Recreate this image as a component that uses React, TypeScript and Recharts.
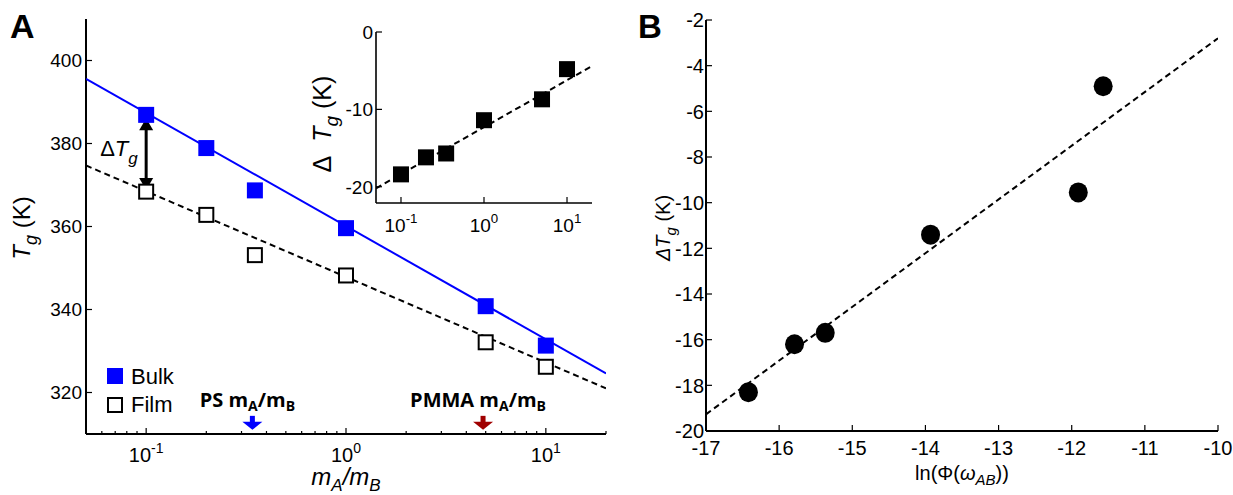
import React from "react";
import { ComposedChart, Scatter, XAxis, YAxis, ReferenceLine, ReferenceDot } from "recharts";

// panel A: glass transition vs mass ratio
const massRatio = [0.1, 0.2, 0.35, 1, 5, 10];
const bulkTg = [386.9, 378.9, 368.7, 359.6, 340.8, 331.3];
const filmTg = [368.4, 362.8, 353.1, 348.2, 332.1, 326.2];
const fitRatio = [0.05, 20];
const bulkFitTg = [395.6, 324.6];
const filmFitTg = [374.7, 321.0];

// inset: shift of Tg
const insetShift = [-18.4, -16.2, -15.7, -11.4, -8.7, -4.8];
const insetFitShift = [-20.2, -4.4];

// panel B: shift vs ln(Phi)
const lnPhi = [-16.42, -15.79, -15.37, -13.93, -11.91, -11.57];
const shiftB = [-18.3, -16.2, -15.7, -11.4, -9.55, -4.9];
const fitLnPhi = [-17, -10];
const fitShiftB = [-19.27, -2.8];

// arrows marking polymer ratios
const psRatio = 0.34;
const pmmaRatio = 4.85;

// ticks
const decades = [0.1, 1, 10];
const decadeExp = ["-1", "0", "1"];
const logTicks = [0.05, 0.06, 0.07, 0.08, 0.09, 0.1, 0.2, 0.3, 0.4, 0.5, 0.6, 0.7, 0.8, 0.9, 1, 2, 3, 4, 5, 6, 7, 8, 9, 10, 20];
const tgTicks = [320, 340, 360, 380, 400];
const insetTicks = [-20, -10, 0];
const bTicksX = [-17, -16, -15, -14, -13, -12, -11, -10];
const bTicksY = [-20, -18, -16, -14, -12, -10, -8, -6, -4, -2];

const FONT = "'Liberation Sans', Arial, sans-serif";
const BOLD = "'Open Sans', 'Liberation Sans', sans-serif";

const pts = (xs: number[], ys: number[]) => xs.map((x, i) => ({ x, y: ys[i] }));

const none = () => <g />;

const logTick = (side: "bottom" | "top", labelDy: number, fs: number) => (p: any) => {
  const { x, y, payload } = p;
  const k = decades.indexOf(payload.value);
  const len = k >= 0 ? 6 : 3;
  const dir = side === "bottom" ? -1 : 1;
  return (
    <g>
      <line x1={x} x2={x} y1={y} y2={y + dir * len} stroke="#000" strokeWidth={1.2} />
      {side === "bottom" && k >= 0 ? (
        <text x={x} y={y + labelDy} textAnchor="middle" fontSize={fs} fontFamily={FONT} fill="#000">
          10
          <tspan dy={-fs * 0.45} fontSize={fs * 0.7}>
            {decadeExp[k]}
          </tspan>
        </text>
      ) : null}
    </g>
  );
};

const linTick = (side: "left" | "right" | "bottom" | "top", fs: number, gap: number) => (p: any) => {
  const { x, y, payload } = p;
  const len = 6;
  if (side === "left")
    return (
      <g>
        <line x1={x} x2={x + len} y1={y} y2={y} stroke="#000" strokeWidth={1.2} />
        <text x={x - gap} y={y} dy="0.36em" textAnchor="end" fontSize={fs} fontFamily={FONT} fill="#000">
          {payload.value}
        </text>
      </g>
    );
  if (side === "right") return <line x1={x} x2={x - len} y1={y} y2={y} stroke="#000" strokeWidth={1.2} />;
  if (side === "top") return <line x1={x} x2={x} y1={y} y2={y + len} stroke="#000" strokeWidth={1.2} />;
  return (
    <g>
      <line x1={x} x2={x} y1={y} y2={y - len} stroke="#000" strokeWidth={1.2} />
      <text x={x} y={y + gap} textAnchor="middle" fontSize={fs} fontFamily={FONT} fill="#000">
        {payload.value}
      </text>
    </g>
  );
};

const square = (size: number, fill: string, open = false) => (p: any) =>
  open ? (
    <rect x={p.cx - size / 2} y={p.cy - size / 2} width={size} height={size} fill="#fff" stroke="#000" strokeWidth={2} />
  ) : (
    <rect x={p.cx - size / 2} y={p.cy - size / 2} width={size} height={size} fill={fill} />
  );

const ratioArrow = (color: string, label: string) => (p: any) => {
  const { cx, cy } = p;
  return (
    <g>
      <rect x={cx - 2.5} y={cy - 14} width={5} height={7} fill={color} />
      <polygon points={`${cx - 10},${cy - 8} ${cx + 10},${cy - 8} ${cx},${cy}`} fill={color} />
      <text x={cx - 5} y={cy - 23} textAnchor="middle" fontSize={20} fontWeight={700} fontFamily={BOLD} fill="#000">
        {label} m<tspan dy={4} fontSize={14}>A</tspan>
        <tspan dy={-4}>/m</tspan>
        <tspan dy={4} fontSize={14}>B</tspan>
      </text>
    </g>
  );
};

const deltaArrow = (p: any) => {
  const { x1, y1, y2 } = p;
  const top = Math.min(y1, y2);
  const bot = Math.max(y1, y2);
  return (
    <g>
      <line x1={x1} x2={x1} y1={top + 10} y2={bot - 10} stroke="#000" strokeWidth={3} />
      <polygon points={`${x1 - 7},${top + 12} ${x1 + 7},${top + 12} ${x1},${top}`} fill="#000" />
      <polygon points={`${x1 - 7},${bot - 12} ${x1 + 7},${bot - 12} ${x1},${bot}`} fill="#000" />
      <text x={x1 - 46} y={(top + bot) / 2 + 2} fontSize={22} fontFamily={FONT} fill="#000">
        Δ<tspan fontStyle="italic">T</tspan>
        <tspan dy={8} fontSize={17} fontStyle="italic">g</tspan>
      </text>
    </g>
  );
};

const circle = (p: any) => <ellipse cx={p.cx} cy={p.cy} rx={9.5} ry={10} fill="#000" />;

function PanelA() {
  return (
    <ComposedChart width={620} height={495} margin={{ top: 19, right: 14, bottom: 21, left: 26 }}>
      <XAxis type="number" dataKey="x" scale="log" domain={[0.05, 20]} allowDataOverflow ticks={logTicks} interval={0}
        height={40} tickSize={0} tickMargin={0} tickLine={false} tick={logTick("bottom", 28, 20)}
        axisLine={{ stroke: "#000", strokeWidth: 2 }} />
      <XAxis xAxisId="t" orientation="top" type="number" dataKey="x" scale="log" domain={[0.05, 20]} allowDataOverflow
        ticks={logTicks} interval={0} height={0} tickSize={0} tickMargin={0} tickLine={false} tick={logTick("top", 0, 20)}
        axisLine={{ stroke: "#000", strokeWidth: 2 }} />
      <YAxis type="number" dataKey="y" domain={[310, 410]} allowDataOverflow ticks={tgTicks} interval={0} width={60}
        tickSize={0} tickMargin={0} tickLine={false} tick={linTick("left", 19, 4)} axisLine={{ stroke: "#000", strokeWidth: 2 }} />
      <YAxis yAxisId="r" orientation="right" type="number" domain={[310, 410]} allowDataOverflow ticks={tgTicks} interval={0}
        width={0} tickSize={0} tickMargin={0} tickLine={false} tick={linTick("right", 19, 4)}
        axisLine={{ stroke: "#000", strokeWidth: 2 }} />
      <Scatter data={pts(fitRatio, bulkFitTg)} line={{ stroke: "#0000ff", strokeWidth: 2 }} shape={none} isAnimationActive={false} />
      <Scatter data={pts(fitRatio, filmFitTg)} line={{ stroke: "#000", strokeWidth: 2, strokeDasharray: "6 4" }} shape={none} isAnimationActive={false} />
      <Scatter data={pts(massRatio, filmTg)} shape={square(14, "#fff", true)} isAnimationActive={false} />
      <Scatter data={pts(massRatio, bulkTg)} shape={square(16, "#0000ff")} isAnimationActive={false} />
      <ReferenceLine segment={[{ x: 0.1, y: 386.1 }, { x: 0.1, y: 368.8 }]} shape={deltaArrow} />
      <ReferenceDot x={psRatio} y={311} shape={ratioArrow("#0000ff", "PS")} />
      <ReferenceDot x={pmmaRatio} y={311} shape={ratioArrow("#a00000", "PMMA")} />
    </ComposedChart>
  );
}

function Inset() {
  return (
    <ComposedChart width={315} height={245} margin={{ top: 22, right: 13, bottom: 22, left: 26 }}>
      <XAxis type="number" dataKey="x" scale="log" domain={[0.05, 20]} allowDataOverflow ticks={decades} interval={0}
        height={30} tickSize={0} tickMargin={0} tickLine={false} tick={logTick("bottom", 29, 19)}
        axisLine={{ stroke: "#000", strokeWidth: 1.6 }} />
      <XAxis xAxisId="t" orientation="top" type="number" dataKey="x" scale="log" domain={[0.05, 20]} allowDataOverflow
        ticks={decades} interval={0} height={0} tickSize={0} tickMargin={0} tickLine={false} tick={logTick("top", 0, 19)}
        axisLine={{ stroke: "#000", strokeWidth: 1.6 }} />
      <YAxis type="number" dataKey="y" domain={[-22.1, 0]} allowDataOverflow ticks={insetTicks} interval={0} width={60}
        tickSize={0} tickMargin={0} tickLine={false} tick={linTick("left", 19, 3)} axisLine={{ stroke: "#000", strokeWidth: 1.6 }} />
      <YAxis yAxisId="r" orientation="right" type="number" domain={[-22.1, 0]} allowDataOverflow ticks={insetTicks} interval={0}
        width={0} tickSize={0} tickMargin={0} tickLine={false} tick={linTick("right", 19, 3)}
        axisLine={{ stroke: "#000", strokeWidth: 1.6 }} />
      <Scatter data={pts(fitRatio, insetFitShift)} line={{ stroke: "#000", strokeWidth: 2, strokeDasharray: "6 4" }} shape={none} isAnimationActive={false} />
      <Scatter data={pts(massRatio, insetShift)} shape={square(16, "#000")} isAnimationActive={false} />
    </ComposedChart>
  );
}

function PanelB() {
  return (
    <ComposedChart width={593} height={495} margin={{ top: 20, right: 15, bottom: 24, left: 6 }}>
      <XAxis type="number" dataKey="x" domain={[-17, -10]} allowDataOverflow ticks={bTicksX} interval={0} height={40}
        tickSize={0} tickMargin={0} tickLine={false} tick={linTick("bottom", 20, 24)} axisLine={{ stroke: "#000", strokeWidth: 2 }} />
      <XAxis xAxisId="t" orientation="top" type="number" dataKey="x" domain={[-17, -10]} allowDataOverflow ticks={bTicksX}
        interval={0} height={0} tickSize={0} tickMargin={0} tickLine={false} tick={linTick("top", 20, 0)}
        axisLine={{ stroke: "#000", strokeWidth: 2 }} />
      <YAxis type="number" dataKey="y" domain={[-20, -2]} allowDataOverflow ticks={bTicksY} interval={0} width={60}
        tickSize={0} tickMargin={0} tickLine={false} tick={linTick("left", 20, 2)} axisLine={{ stroke: "#000", strokeWidth: 2 }} />
      <YAxis yAxisId="r" orientation="right" type="number" domain={[-20, -2]} allowDataOverflow ticks={bTicksY} interval={0}
        width={0} tickSize={0} tickMargin={0} tickLine={false} tick={linTick("right", 20, 0)}
        axisLine={{ stroke: "#000", strokeWidth: 2 }} />
      <Scatter data={pts(fitLnPhi, fitShiftB)} line={{ stroke: "#000", strokeWidth: 2, strokeDasharray: "6 4" }} shape={none} isAnimationActive={false} />
      <Scatter data={pts(lnPhi, shiftB)} shape={circle} isAnimationActive={false} />
    </ComposedChart>
  );
}

function Overlay() {
  const t = { fontFamily: FONT, fill: "#000" };
  return (
    <svg width={1233} height={495} style={{ position: "absolute", left: 0, top: 0, pointerEvents: "none" }}>
      <text x={10} y={38} fontSize={34} fontWeight={700} {...t}>A</text>
      <text x={638} y={38} fontSize={33} fontWeight={700} {...t}>B</text>
      <text x={30} y={228} transform="rotate(-90, 30, 228)" textAnchor="middle" fontSize={24} {...t}>
        <tspan fontStyle="italic">T</tspan>
        <tspan dy={7} fontSize={18} fontStyle="italic">g</tspan>
        <tspan dy={-7}>{"\u00a0(K)"}</tspan>
      </text>
      <text x={346} y={485} textAnchor="middle" fontSize={24} fontStyle="italic" {...t}>
        m<tspan dy={6} fontSize={17}>A</tspan>
        <tspan dy={-6}>/m</tspan>
        <tspan dy={6} fontSize={17}>B</tspan>
      </text>
      <text x={331} y={124} transform="rotate(-90, 331, 124)" textAnchor="middle" fontSize={25} {...t}>
        {"Δ\u00a0\u00a0"}
        <tspan fontStyle="italic">T</tspan>
        <tspan dy={7} fontSize={19} fontStyle="italic">g</tspan>
        <tspan dy={-7}>{"\u00a0(K)"}</tspan>
      </text>
      <text x={670} y={228} transform="rotate(-90, 670, 228)" textAnchor="middle" fontSize={20} {...t}>
        <tspan fontStyle="italic">ΔT</tspan>
        <tspan dy={6} fontSize={15} fontStyle="italic">g</tspan>
        <tspan dy={-6}>{"\u00a0(K)"}</tspan>
      </text>
      <text x={962} y={480} textAnchor="middle" fontSize={20} {...t}>
        ln(Φ(<tspan fontStyle="italic">ω</tspan>
        <tspan dy={5} fontSize={15} fontStyle="italic">AB</tspan>
        <tspan dy={-5}>))</tspan>
      </text>
      <rect x={107} y={368} width={16} height={16} fill="#0000ff" />
      <text x={131} y={384} fontSize={22} {...t}>Bulk</text>
      <rect x={108} y={398} width={14} height={14} fill="#fff" stroke="#000" strokeWidth={2} />
      <text x={131} y={412} fontSize={22} {...t}>Film</text>
    </svg>
  );
}

export default function App() {
  return (
    <div style={{ position: "absolute", left: 0, top: 0, width: 1233, height: 495, background: "#fff" }}>
      <div style={{ position: "absolute", left: 0, top: 0 }}>
        <PanelA />
      </div>
      <div style={{ position: "absolute", left: 290, top: 10 }}>
        <Inset />
      </div>
      <div style={{ position: "absolute", left: 640, top: 0 }}>
        <PanelB />
      </div>
      <Overlay />
    </div>
  );
}
